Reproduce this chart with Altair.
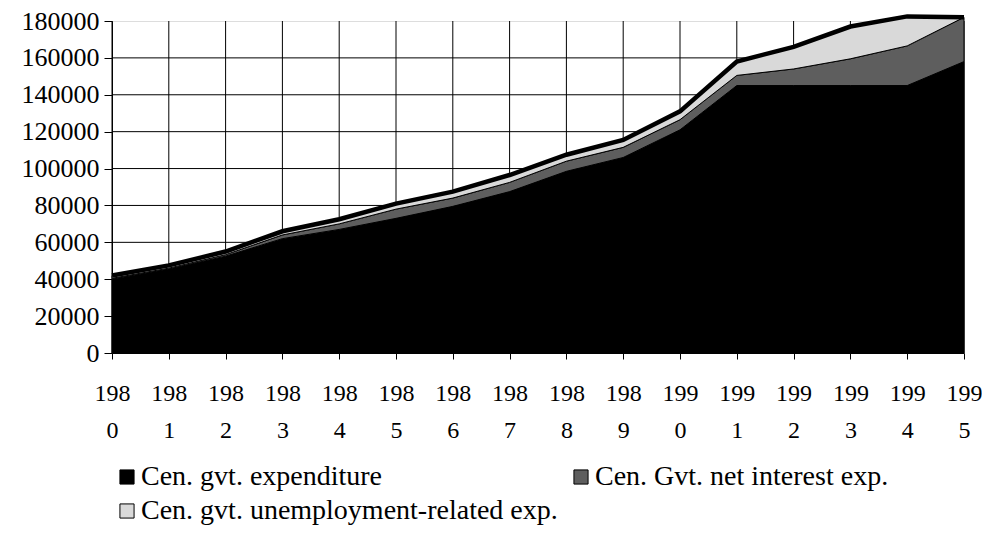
import altair as alt
import pandas as pd

years = list(range(1980, 1996))
expenditure = [40000, 45500, 52500, 62000, 67000, 73000, 79500, 87500,
               98500, 106000, 121000, 145000, 145000, 145000, 145000, 158000]
interest = [500, 500, 800, 2000, 3000, 5000, 4500, 5000,
            5500, 5500, 5500, 5500, 9000, 14500, 21500, 24000]
unemployment = [1500, 1500, 1700, 2000, 2500, 3000, 3500, 4000,
                3500, 4000, 4500, 7500, 12000, 17500, 16000, 0]

series_names = ["Cen. gvt. expenditure", "Cen. Gvt. net interest exp.",
                "Cen. gvt. unemployment-related exp."]
series_colors = ["#000000", "#5e5e5e", "#d9d9d9"]
legend_order = [series_names[0], series_names[2], series_names[1]]
y_ticks = list(range(0, 180001, 20000))
y_grid = list(range(20000, 160001, 20000))

rows = []
for i, name in enumerate(series_names):
    vals = [expenditure, interest, unemployment][i]
    for y, v in zip(years, vals):
        rows.append({"year": y, "value": v, "series": name, "order": i})
df = pd.DataFrame(rows)

FONT = "Liberation Serif"
W, H = 852, 332

xscale = alt.Scale(domain=[1980, 1995], nice=False, zero=False)
yscale = alt.Scale(domain=[0, 180000], nice=False)

xaxis = alt.Axis(values=years, title=None, grid=False,
                 labelExpr="[substring(toString(datum.value),0,3), substring(toString(datum.value),3)]",
                 labelFont=FONT, labelFontSize=24, labelColor="black",
                 labelLineHeight=37, labelPadding=22, tickSize=6,
                 tickColor="black", domainColor="black",
                 labelFlush=False, labelOverlap=False)
yaxis = alt.Axis(values=y_ticks, title=None, grid=False, format="d",
                 labelFont=FONT, labelFontSize=26, labelColor="black",
                 labelPadding=5, tickSize=8, tickColor="black",
                 domainColor="black", labelOverlap=False, labelFlush=False)

hgrid = alt.Chart(pd.DataFrame({"v": y_grid})).mark_rule(
    color="black", strokeWidth=1).encode(y=alt.Y("v:Q", scale=yscale, axis=yaxis))

vgrid = alt.Chart(pd.DataFrame({"year": years})).mark_rule(
    color="black", strokeWidth=1).encode(
    x=alt.X("year:Q", scale=xscale, axis=xaxis),
    y=alt.value(0), y2=alt.value(H))

areas = alt.Chart(df).mark_area(stroke="black", strokeWidth=1).encode(
    x=alt.X("year:Q", scale=xscale, axis=xaxis),
    y=alt.Y("value:Q", stack="zero", scale=yscale, axis=yaxis),
    color=alt.Color("series:N",
                    scale=alt.Scale(domain=series_names, range=series_colors),
                    legend=alt.Legend(title=None, orient="none", legendX=1, legendY=442,
                                      values=legend_order,
                                      columns=2, columnPadding=9, rowPadding=6,
                                      symbolType="square", symbolSize=200,
                                      symbolStrokeColor="black", symbolStrokeWidth=1,
                                      labelFont=FONT, labelFontSize=28,
                                      labelColor="black", labelOffset=0,
                                      padding=0, labelLimit=600)),
    order=alt.Order("order:Q", sort="ascending"),
)

total_line = alt.Chart(df).mark_line(color="black", strokeWidth=4.5).encode(
    x=alt.X("year:Q", scale=xscale, axis=xaxis),
    y=alt.Y("sum(value):Q", scale=yscale, axis=yaxis),
)

chart = alt.layer(vgrid, hgrid, areas, total_line).properties(
    width=W, height=H,
    autosize=alt.AutoSizeParams(type="none"),
    padding={"left": 104, "top": 13, "right": 18, "bottom": 172},
).configure_view(stroke=None).configure(background="white")

chart.save("out.html", embed_options={"renderer": "svg", "actions": False})
